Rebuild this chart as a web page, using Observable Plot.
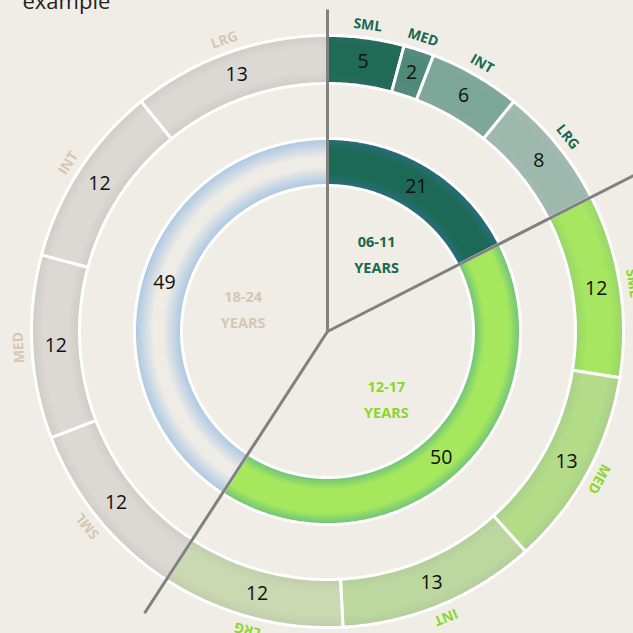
<!DOCTYPE html>
<html>
<head>
<meta charset="utf-8">
<script src="https://cdn.jsdelivr.net/npm/d3@7"></script>
<script src="https://cdn.jsdelivr.net/npm/@observablehq/plot@0.6"></script>
<style>
  html, body { margin: 0; padding: 0; background: #f0ede7; }
  #chart { width: 633px; height: 633px; overflow: hidden; }
</style>
</head>
<body>
<div id="chart"></div>
<script>
// ---- data ----
const title = "example";
const groups = ["06-11", "12-17", "18-24"];
const groupValues = [21, 50, 49];
const sizes = ["SML", "MED", "INT", "LRG"];
const values0611 = [5, 2, 6, 8];
const values1217 = [12, 13, 13, 12];
const values1824 = [12, 12, 12, 13];

// ---- styling ----
const groupText = ["#17694f", "#8bd62e", "#d5c7b4"];
const innerCore = ["#1c6a55", "#a5e85e", "#efece6"];
const innerEdge = ["#2a6d7e", "#6cc07a", "#a9c6e3"];
const outerCore = [
  ["#1f6b55", "#4f8a78", "#7ba698", "#9db9ae"],
  ["#a6e660", "#b3db88", "#bdd89f", "#cad9b2"],
  ["#dcd9d4", "#dcd9d4", "#dcd9d4", "#dcd9d4"]
];
const outerEdge = [
  ["#2a6a60", "#5a8a80", "#84a69c", "#a3b9b2"],
  ["#98d46a", "#a9cf88", "#b3cd9c", "#bfceab"],
  ["#cfccc8", "#cfccc8", "#cfccc8", "#cfccc8"]
];
const R = {in0: 146, in1: 193, out0: 248, out1: 296};
const sepLen = [322, 352, 336];
const centerR = [94, 88, 88];

const sub = [values0611, values1217, values1824];
const total = d3.sum(groupValues);
const deg = v => v / total * 360;
const rad = a => a * Math.PI / 180;
const pt = (a, r) => [r * Math.sin(rad(a)), r * Math.cos(rad(a))];

// build segments
const polys = [];
const valueLabels = [];
const sizeLabels = [];
const centerLabels = [];
const separators = [];
const grads = [];
let a = 0;
groups.forEach((g, gi) => {
  const a0 = a, a1 = a + deg(groupValues[gi]);
  separators.push({x1: 0, y1: 0, x2: pt(a0, sepLen[gi])[0], y2: pt(a0, sepLen[gi])[1]});
  const id = `gin${gi}`;
  grads.push({id, r0: R.in0, r1: R.in1, core: innerCore[gi], edge: innerEdge[gi], soft: gi === 2});
  pushArc(`in${gi}`, a0, a1, R.in0, R.in1, `url(#${id})`);
  const am = (a0 + a1) / 2;
  valueLabels.push({x: pt(am, 170)[0], y: pt(am, 170)[1], t: String(groupValues[gi])});
  centerLabels.push({x: pt(am, centerR[gi])[0], y: pt(am, centerR[gi])[1], t: g + "\nYEARS", c: groupText[gi]});
  let b = a0;
  sub[gi].forEach((v, si) => {
    const b0 = b, b1 = b + deg(v);
    const oid = `gout${gi}_${si}`;
    grads.push({id: oid, r0: R.out0, r1: R.out1, core: outerCore[gi][si], edge: outerEdge[gi][si]});
    pushArc(`out${gi}_${si}`, b0, b1, R.out0, R.out1, `url(#${oid})`);
    const bm = (b0 + b1) / 2;
    valueLabels.push({x: pt(bm, 272)[0], y: pt(bm, 272)[1], t: String(v)});
    sizeLabels.push({x: pt(bm, 309)[0], y: pt(bm, 309)[1], t: sizes[si], rot: bm, c: groupText[gi]});
    b = b1;
  });
  a = a1;
});

function pushArc(id, a0, a1, r0, r1, fill) {
  const n = Math.max(2, Math.ceil((a1 - a0) / 0.5));
  const pts = [];
  for (let i = 0; i <= n; i++) pts.push(pt(a0 + (a1 - a0) * i / n, r1));
  for (let i = n; i >= 0; i--) pts.push(pt(a0 + (a1 - a0) * i / n, r0));
  pts.push(pts[0]);
  pts.forEach(([x, y], k) => polys.push({id, x, y, fill, k}));
}

const plot = Plot.plot({
  width: 633,
  height: 633,
  margin: 0,
  x: {domain: [-327, 306], axis: null},
  y: {domain: [-302, 331], axis: null},
  color: {type: "identity"},
  style: {background: "#f0ede7", fontFamily: "'Open Sans', sans-serif", overflow: "hidden"},
  marks: [
    Plot.line(polys, {x: "x", y: "y", z: "id", fill: "fill", stroke: "white", strokeWidth: 3, curve: "linear", strokeLinejoin: "miter"}),
    Plot.link(separators, {x1: "x1", y1: "y1", x2: "x2", y2: "y2", stroke: "#808080", strokeWidth: 3}),
    Plot.text(valueLabels, {x: "x", y: "y", text: "t", fill: "#111", fontSize: 19.5}),
    Plot.text(sizeLabels, {x: "x", y: "y", text: "t", rotate: "rot", fill: "c", fontSize: 14, fontWeight: "bold"}),
    Plot.text(centerLabels, {x: "x", y: "y", text: "t", fill: "c", fontSize: 14.5, fontWeight: "bold", lineHeight: 1.8}),
    Plot.text([title], {text: d => d, frameAnchor: "top-left", dx: 22, dy: 8, lineAnchor: "bottom", textAnchor: "start", fontSize: 22, fill: "#222"})
  ]
});

// gradient definitions (radial, centred on the chart centre)
const cx = plot.scale("x").apply(0), cy = plot.scale("y").apply(0);
const svg = d3.select(plot);
const defs = svg.insert("defs", ":first-child");
grads.forEach(g => {
  const rg = defs.append("radialGradient").attr("id", g.id)
    .attr("gradientUnits", "userSpaceOnUse").attr("cx", cx).attr("cy", cy).attr("r", g.r1);
  const t0 = g.r0 / g.r1, w = (1 - t0);
  const k = g.soft ? 0.4 : 0.25;
  rg.append("stop").attr("offset", t0).attr("stop-color", g.edge);
  rg.append("stop").attr("offset", t0 + w * k).attr("stop-color", g.core);
  rg.append("stop").attr("offset", t0 + w * (1 - k)).attr("stop-color", g.core);
  rg.append("stop").attr("offset", 1).attr("stop-color", g.edge);
});

document.getElementById("chart").appendChild(plot);
</script>
</body>
</html>
